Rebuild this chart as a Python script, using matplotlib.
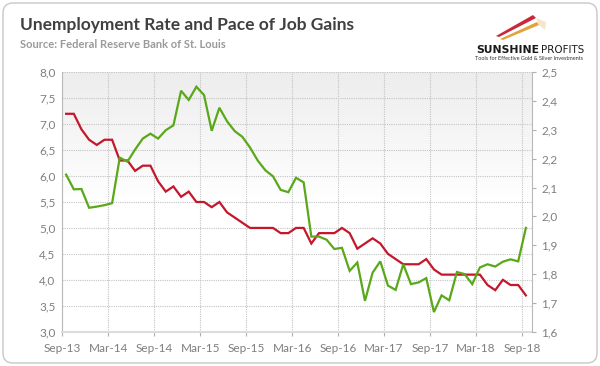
import numpy as np
import matplotlib
matplotlib.use("Agg")
import matplotlib.pyplot as plt
from matplotlib.patches import FancyBboxPatch, Polygon
from matplotlib.ticker import FuncFormatter

plt.rcParams['font.family'] = ['Lato', 'DejaVu Sans']

# ---- data (monthly, Sep-2013 .. Sep-2018) ----
unemployment = [7.2, 7.2, 6.9, 6.7, 6.6, 6.7, 6.7, 6.3, 6.3, 6.1, 6.2, 6.2,
                5.9, 5.7, 5.8, 5.6, 5.7, 5.5, 5.5, 5.4, 5.5, 5.3, 5.2, 5.1,
                5.0, 5.0, 5.0, 5.0, 4.9, 4.9, 5.0, 5.0, 4.7, 4.9, 4.9, 4.9,
                5.0, 4.9, 4.6, 4.7, 4.8, 4.7, 4.5, 4.4, 4.3, 4.3, 4.3, 4.4,
                4.2, 4.1, 4.1, 4.1, 4.1, 4.1, 4.1, 3.9, 3.8, 4.0, 3.9, 3.9, 3.7]
job_gains = [2.145, 2.094, 2.095, 2.030, 2.034, 2.039, 2.046, 2.204, 2.190, 2.232, 2.270, 2.287,
             2.270, 2.299, 2.316, 2.436, 2.404, 2.450, 2.421, 2.297, 2.377, 2.330, 2.296, 2.276,
             2.239, 2.194, 2.160, 2.139, 2.092, 2.084, 2.134, 2.118, 1.930, 1.930, 1.919, 1.887,
             1.891, 1.811, 1.840, 1.707, 1.805, 1.844, 1.760, 1.745, 1.834, 1.765, 1.771, 1.786,
             1.668, 1.726, 1.709, 1.807, 1.800, 1.765, 1.823, 1.834, 1.826, 1.843, 1.851, 1.844, 1.960]
tick_labels = ['Sep-13', 'Mar-14', 'Sep-14', 'Mar-15', 'Sep-15', 'Mar-16',
               'Sep-16', 'Mar-17', 'Sep-17', 'Mar-18', 'Sep-18']
title = 'Unemployment Rate and Pace of Job Gains'
subtitle = 'Source: Federal Reserve Bank of St. Louis'

RED = '#c4172c'
GREEN = '#5aa81a'
GRAY_TXT = '#7f7f7f'

W, H = 600, 366
fig = plt.figure(figsize=(W / 100, H / 100), dpi=100)
fig.patch.set_facecolor('white')

# overlay for frame, title, logo (pixel coordinates)
ov = fig.add_axes([0, 0, 1, 1], zorder=0)
ov.set_xlim(0, W)
ov.set_ylim(H, 0)
ov.axis('off')
ov.add_patch(FancyBboxPatch((3, 3), W - 6, H - 6, boxstyle='round,pad=0,rounding_size=10',
                            fc='white', ec='#c8c8c8', lw=1.0))
ov.text(20, 25, title, fontsize=12.5, fontweight='bold', color='#404040', va='center', ha='left')
ov.text(20, 45, subtitle, fontsize=8, fontweight='bold', color='#9a9a9a', va='center', ha='left')
# logo streaks
ov.add_patch(Polygon([[496, 36], [533, 15], [536, 18], [499, 37]], closed=True, fc='#c8283a', ec='none'))
ov.add_patch(Polygon([[500, 39], [537, 22], [539, 25], [503, 40]], closed=True, fc='#e3a23a', ec='none'))
ov.add_patch(Polygon([[536, 18], [546, 22], [545, 30], [539, 25]], closed=True, fc='#f3d9b5', ec='none', alpha=0.7))
ov.text(539, 50, 'SUNSHINE', fontsize=7.8, fontweight='heavy', color='#1a1a1a', va='center', ha='right',
        family=['DejaVu Sans'])
ov.text(541, 50, 'PROFITS', fontsize=7.4, color='#1a1a1a', va='center', ha='left',
        family=['DejaVu Sans'])
ov.text(475, 59, 'Tools for Effective Gold & Silver Investments', fontsize=4.0, color='#333333',
        va='center', ha='left')

# main axes
x0, x1 = 62.3, 531.7
y0, y1 = 72.3, 331.7
ax = fig.add_axes([x0 / W, 1 - y1 / H, (x1 - x0) / W, (y1 - y0) / H], zorder=2)
ax.set_facecolor('none')
n = len(unemployment)
x = np.arange(n)
ax.set_xlim(-0.5, 60.76)
ax.set_ylim(3.0, 8.0)

# gradient background
grad = np.linspace(0, 1, 256).reshape(-1, 1)
ax.imshow(grad, extent=[-0.5, 60.76, 3.0, 8.0], aspect='auto', origin='lower',
          cmap=matplotlib.colors.LinearSegmentedColormap.from_list('g', ['#ffffff', '#ffffff', '#ededed']),
          zorder=0)

ax.set_yticks(np.arange(3.0, 8.01, 0.5))
ax.yaxis.set_major_formatter(FuncFormatter(lambda v, p: f'{v:.1f}'.replace('.', ',')))
xt = np.arange(0, n, 6) - 0.5
ax.set_xticks(xt)
ax.set_xticklabels(tick_labels)
ax.grid(True, color='#c4c4c4', linestyle=(0, (1, 1)), lw=0.8, zorder=1)
ax.tick_params(axis='y', length=0, labelsize=8.5, labelcolor=GRAY_TXT, pad=5)
ax.tick_params(axis='x', length=3, color='#b0b0b0', labelsize=8.5, labelcolor=GRAY_TXT, pad=5)
for s in ['top', 'right']:
    ax.spines[s].set_visible(False)
ax.spines['left'].set_color('#b8b8b8')
ax.spines['bottom'].set_color('#dcdcdc')
ax.spines['bottom'].set_linewidth(1.5)

ax.plot(x, unemployment, color=RED, lw=1.6, zorder=3, solid_joinstyle='miter')

ax2 = ax.twinx()
ax2.set_ylim(1.6, 2.5)
ax2.set_yticks(np.arange(1.6, 2.51, 0.1))
ax2.yaxis.set_major_formatter(FuncFormatter(lambda v, p: f'{v:.1f}'.replace('.', ',')))
ax2.tick_params(axis='y', length=3, color='#b0b0b0', labelsize=8.5, labelcolor=GRAY_TXT, pad=4)
for s in ['top', 'left', 'bottom']:
    ax2.spines[s].set_visible(False)
ax2.spines['right'].set_color('#b8b8b8')
ax2.plot(x, job_gains, color=GREEN, lw=1.6, zorder=3, solid_joinstyle='miter')

fig.savefig('out.png', dpi=100, facecolor='white')
